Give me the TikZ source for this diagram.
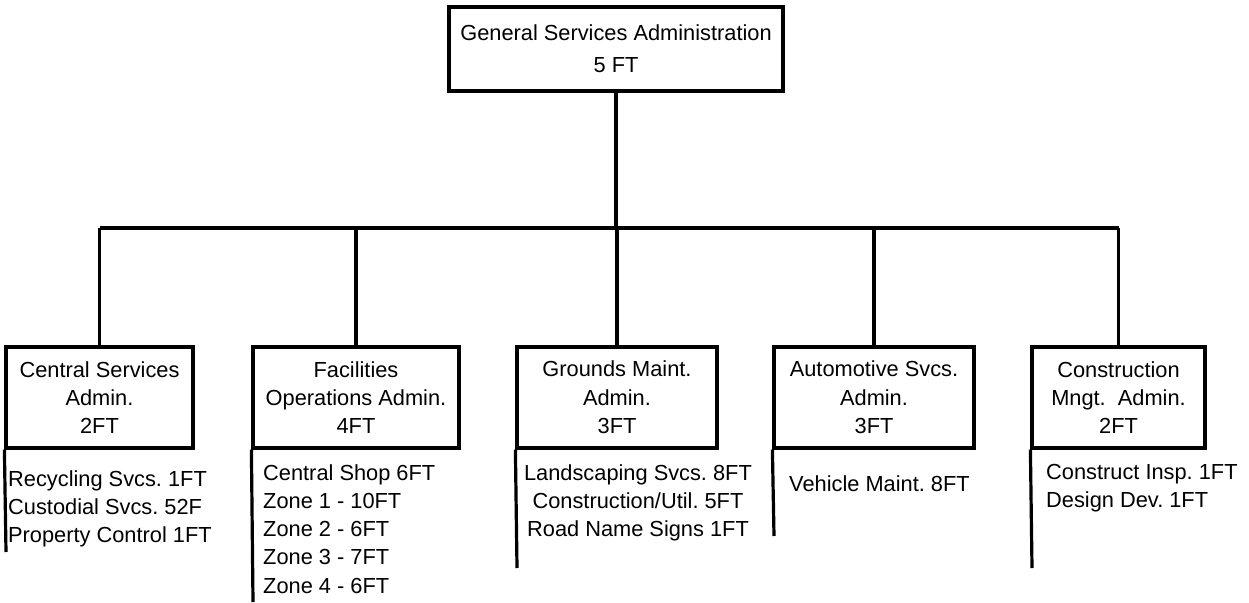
\documentclass[tikz,border=0pt]{standalone}
\usepackage{fontspec}
\setmainfont{Liberation Sans}
\frenchspacing
\begin{document}
\begin{tikzpicture}[x=1pt,y=-1pt,
  every node/.style={font=\fontsize{21.8}{28.3}\selectfont},
  orgbox/.style={draw, line width=3.2pt, inner sep=0pt, align=center, minimum height=101pt},
  sublist/.style={inner sep=0pt, align=left, anchor=north west},
  link/.style={line width=3.2pt}]
\useasboundingbox (0,0) rectangle (1249,602);
\node[orgbox, minimum width=334pt, minimum height=84pt,
  font=\fontsize{21.8}{32}\selectfont] (gsa) at (616,49) {General Services Administration\\5 FT};
\node[orgbox, minimum width=187pt] (cs) at (99.5,397.5) {Central Services\\Admin.\\2FT};
\node[orgbox, minimum width=206pt] (fo) at (356,397.5) {Facilities\\Operations Admin.\\4FT};
\node[orgbox, minimum width=200pt] (gm) at (617,397.5) {Grounds Maint.\\Admin.\\3FT};
\node[orgbox, minimum width=200pt] (as) at (874,397.5) {Automotive Svcs.\\Admin.\\3FT};
\node[orgbox, minimum width=173pt] (cm) at (1118.5,397.5) {Construction\\Mngt.\ \ Admin.\\2FT};
\coordinate (bus) at (616,228);
\draw[link] (gsa.south) -- (bus);
\draw[link] (cs.north |- bus) -- (cm.north |- bus);
\foreach \b in {cs,fo,gm,as,cm} \draw[link] (\b.north |- bus) -- (\b.north);
\node[sublist] (csl) at (8,470) {Recycling Svcs. 1FT\\Custodial Svcs. 52F\\Property Control 1FT};
\node[sublist] (fol) at (263,464) {Central Shop 6FT\\Zone 1 - 10FT\\Zone 2 - 6FT\\Zone 3 - 7FT\\Zone 4 - 6FT};
\node[inner sep=0pt, align=center, anchor=north] (gml) at (638,464) {Landscaping Svcs. 8FT\\Construction/Util. 5FT\\Road Name Signs 1FT};
\node[sublist] (asl) at (789,475) {Vehicle Maint. 8FT};
\node[sublist] (cml) at (1046,464) {Construct Insp. 1FT\\Design Dev. 1FT};
\coordinate (csend) at (6,552);
\coordinate (foend) at (253,602);
\coordinate (gmend) at (517,568);
\coordinate (asend) at (774,536);
\coordinate (cmend) at (1032,568);
\foreach \b in {cs,fo,gm,as,cm} \draw[link] (\b.south west) -- (\b end);
\end{tikzpicture}
\end{document}
